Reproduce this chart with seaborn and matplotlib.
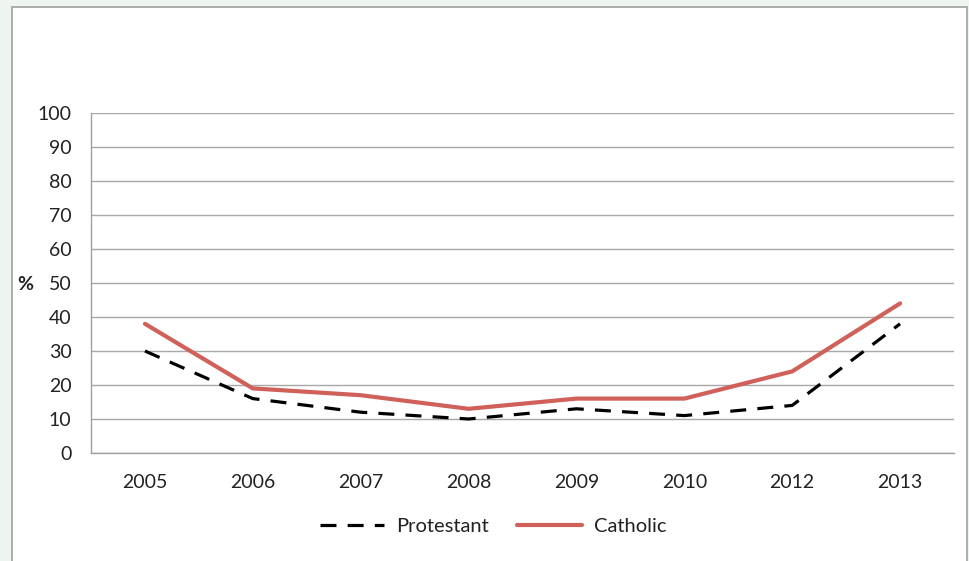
import matplotlib
matplotlib.use("Agg")
import matplotlib.pyplot as plt
import seaborn as sns
import pandas as pd
from matplotlib.patches import Rectangle
from matplotlib.lines import Line2D

years = ["2005", "2006", "2007", "2008", "2009", "2010", "2012", "2013"]
protestant = [30, 16, 12, 10, 13, 11, 14, 38]
catholic = [38, 19, 17, 13, 16, 16, 24, 44]
y_ticks = [0, 10, 20, 30, 40, 50, 60, 70, 80, 90, 100]

sns.set_theme(style="white")
plt.rcParams['font.family'] = ['Lato', 'DejaVu Sans']

df_p = pd.DataFrame({"year": years, "value": protestant})
df_c = pd.DataFrame({"year": years, "value": catholic})

fig = plt.figure(figsize=(9.7, 5.61), dpi=100)
fig.patch.set_facecolor("#eef5f1")
bg = Rectangle((12/970, -0.05), (967-12)/970, 1 - 7/561 + 0.05,
               transform=fig.transFigure, facecolor="white",
               edgecolor="#a0a0a0", linewidth=1.2, zorder=-10)
fig.patches.append(bg)

ax = fig.add_axes([91/970, 1 - 453/561, (954-91)/970, (453-113)/561])
ax.set_zorder(5)
ax.set_facecolor("white")

red = "#cf605a"
sns.lineplot(data=df_p, x="year", y="value", ax=ax, color="black", linewidth=2.3,
             sort=False, zorder=3)
ax.lines[-1].set_dashes((5, 3.5))
sns.lineplot(data=df_c, x="year", y="value", ax=ax, color=red, linewidth=3.0,
             sort=False, zorder=4)

ax.set_xlim(-0.5, len(years) - 0.5)
ax.set_ylim(0, 100)
ax.set_yticks(y_ticks)
ax.yaxis.grid(True, color="#a8a8a8", linewidth=1.0)
ax.set_axisbelow(True)
for s in ["top", "right"]:
    ax.spines[s].set_visible(False)
for s in ["left", "bottom"]:
    ax.spines[s].set_color("#a0a0a0")
    ax.spines[s].set_linewidth(1.0)

ax.set_xticks(range(len(years)))
ax.set_xticklabels(years)
ax.set_xticks([i - 0.5 for i in range(len(years) + 1)], minor=True)
ax.tick_params(axis="x", which="major", length=0, pad=15, labelsize=14, colors="#222222")
ax.tick_params(axis="x", which="minor", length=6, width=1.0, color="#a0a0a0", direction="out")
ax.tick_params(axis="y", which="major", length=6, width=1.0, color="#a0a0a0", direction="out",
               labelsize=14, labelcolor="#222222", pad=8)
ax.set_xlabel("")
ax.set_ylabel("")
fig.text(25/970, 1 - 284/561, "%", fontsize=14, color="#222222", ha="center", va="center",
         fontweight="bold")

handles = [Line2D([], [], color="black", linewidth=2.3, dashes=(5, 3.5)),
           Line2D([], [], color=red, linewidth=3.0)]
fig.legend(handles, ["Protestant", "Catholic"], loc="center", bbox_to_anchor=(493/970, 1 - 526/561),
           ncol=2, frameon=False, fontsize=14.5, handlelength=3.2, columnspacing=1.4,
           handletextpad=0.6, labelcolor="#222222")

fig.savefig("out.png", dpi=100, facecolor=fig.get_facecolor())
